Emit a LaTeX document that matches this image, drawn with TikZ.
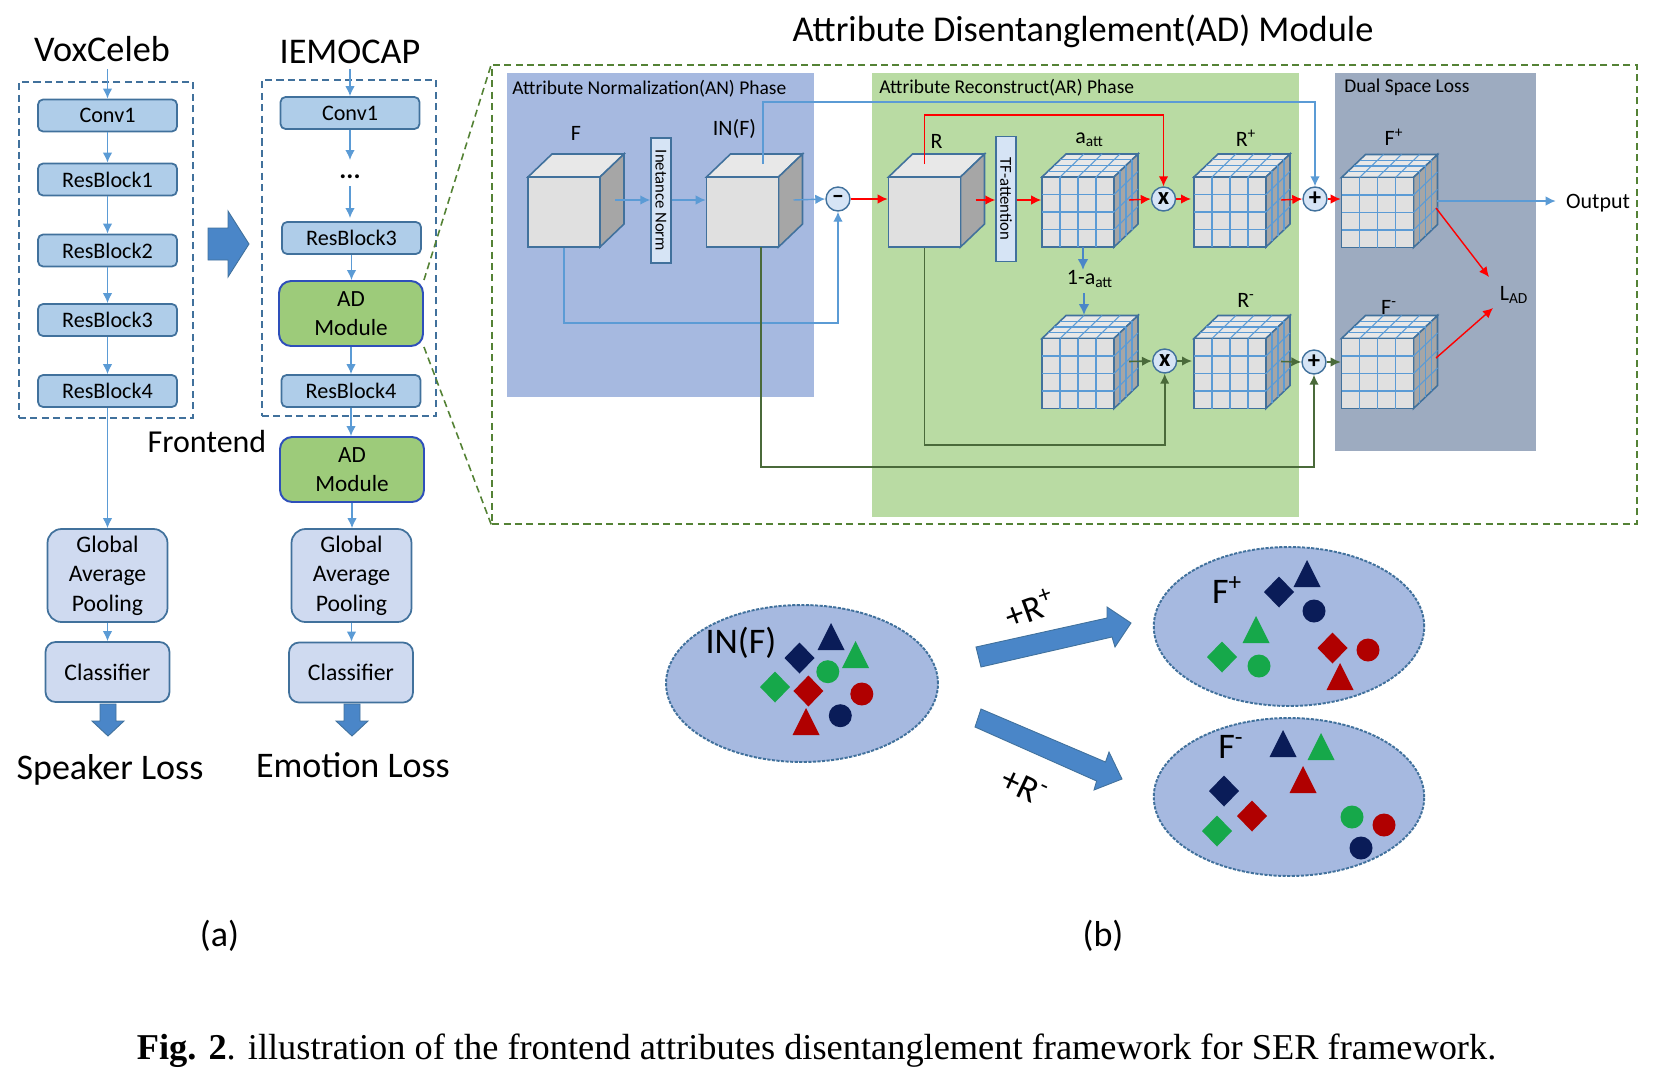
\documentclass[tikz,border=0pt]{standalone}
\usepackage{fontspec}
\setmainfont{Carlito}
\newfontfamily\capfont{Liberation Serif}
\usetikzlibrary{arrows.meta}
\usetikzlibrary{shapes.geometric}
\definecolor{edgeblue}{HTML}{41719C}
\definecolor{boxblue}{HTML}{AFCDE9}
\definecolor{adgreen}{HTML}{9DCB7A}
\definecolor{poolblue}{HTML}{CFDAF0}
\definecolor{anpanel}{HTML}{A6B9E0}
\definecolor{arpanel}{HTML}{B9DBA3}
\definecolor{dualpanel}{HTML}{9DABC0}
\definecolor{linkblue}{HTML}{5B9BD5}
\definecolor{bigblue}{HTML}{4A86C8}
\definecolor{dashgreen}{HTML}{548235}
\definecolor{linkgreen}{HTML}{4A6A3A}
\definecolor{opfill}{HTML}{D6E4F5}
\definecolor{navyshape}{HTML}{0A1C58}
\definecolor{greenshape}{HTML}{16A84A}
\definecolor{redshape}{HTML}{B00000}
\tikzset{blockbox/.style = {draw=edgeblue, fill=boxblue, line width=1pt, rounded corners=1mm,
                            minimum width=2.78cm, minimum height=.64cm, inner sep=0,
                            font=\fontsize{12.6}{14}\selectfont}}
\tikzset{admodule/.style = {draw=edgeblue!70!blue, fill=adgreen, line width=1.1pt, rounded corners=2.4mm,
                            minimum width=2.88cm, minimum height=1.3cm, inner sep=0, align=center,
                            font=\fontsize{13.2}{16.4}\selectfont}}
\tikzset{poolbox/.style = {draw=edgeblue, fill=poolblue, line width=1pt, rounded corners=2.8mm,
                           minimum width=2.4cm, minimum height=1.86cm, inner sep=0, align=center,
                           font=\fontsize{13.5}{16.7}\selectfont}}
\tikzset{classbox/.style = {poolbox, rounded corners=2mm, minimum width=2.48cm, minimum height=1.2cm}}
\tikzset{framebox/.style = {draw=edgeblue, dashed, line width=1pt, dash pattern=on 4pt off 2.5pt}}
\tikzset{bigtext/.style = {inner sep=0, font=\fontsize{20.6}{24}\selectfont}}
\tikzset{phaselabel/.style = {inner sep=0, anchor=west, font=\fontsize{11.1}{13}\selectfont}}
\tikzset{cubelabel/.style = {inner sep=0, font=\fontsize{12.5}{14}\selectfont}}
\tikzset{slimbox/.style = {draw=edgeblue, fill=opfill, line width=.8pt, rotate=-90, inner sep=0,
                           minimum width=2.5cm, minimum height=.4cm, font=\fontsize{9.5}{11}\selectfont}}
\tikzset{opnode/.style = {draw=edgeblue, fill=opfill, line width=.8pt, circle, inner sep=0,
                          minimum size=.48cm, font=\fontsize{14}{14}\selectfont\bfseries}}
\tikzset{bluearr/.style = {draw=linkblue, line width=.8pt, -{Latex[length=2mm,width=1.9mm]}}}
\tikzset{thickarr/.style = {draw=bigblue, line width=1.5pt, -{Latex[length=2.2mm,width=2.2mm]}}}
\tikzset{redarr/.style = {draw=red, line width=.8pt, -{Latex[length=2mm,width=1.9mm]}}}
\tikzset{greenarr/.style = {draw=linkgreen, line width=.9pt, -{Latex[length=2mm,width=1.9mm]}}}
\tikzset{cubefront/.style = {draw=edgeblue, fill=black!12, line width=.9pt, inner sep=0,
                             minimum width=1.44cm, minimum height=1.4cm}}
\tikzset{cubegrid/.style = {draw=linkblue, line width=.6pt}}
\tikzset{bigshape/.style = {fill=bigblue, draw=edgeblue, line width=.5pt}}
\tikzset{cloud/.style = {draw=edgeblue, fill=anpanel, dashed, dash pattern=on 1.8pt off .8pt,
                         line width=1.1pt, ellipse, inner sep=0}}
\newcommand{\plaincube}[3]{
  \begin{scope}[shift={(#2,#3)}]
    \filldraw[draw=edgeblue, fill=black!9, line width=.9pt] (-36,-35) -- (-12,-58) -- (60,-58) -- (36,-35) -- cycle;
    \filldraw[draw=edgeblue, fill=black!35, line width=.9pt] (36,-35) -- (60,-58) -- (60,12) -- (36,35) -- cycle;
    \node[cubefront] (#1) at (0,0) {};
    \coordinate (#1-side) at (51,-12);
    \coordinate (#1-top) at (0,-48);
  \end{scope}}
\newcommand{\gridcube}[3]{
  \plaincube{#1}{#2}{#3}
  \begin{scope}[shift={(#2,#3)}]
    \foreach \i in {1,2,3} {
      \draw[cubegrid] ({-36+18*\i},-35) -- ({-36+18*\i},35);
      \draw[cubegrid] (-36,{-35+17.5*\i}) -- (36,{-35+17.5*\i});
      \draw[cubegrid] ({-36+18*\i},-35) -- ({-12+18*\i},-58);
      \draw[cubegrid] ({-36+6*\i},{-35-5.75*\i}) -- ({36+6*\i},{-35-5.75*\i});
      \draw[cubegrid] ({36+6*\i},{-35-5.75*\i}) -- ({36+6*\i},{35-5.75*\i});
      \draw[cubegrid] (36,{-35+17.5*\i}) -- (60,{-58+17.5*\i});
    }
  \end{scope}}
\begin{document}
\begin{tikzpicture}[x=0.02cm, y=-0.02cm]
  \useasboundingbox (0,0) rectangle (1678,1076);

  % (a) left column
  \node[framebox, minimum width=3.48cm, minimum height=6.72cm] (voxframe) at (106,250) {};
  \node[bigtext] (voxlabel) at (102,49) {VoxCeleb};
  \coordinate (voxin) at (107.5,69);
  \node[blockbox] (vconv) at (107.5,115.5) {Conv1};
  \node[blockbox] (vres1) at (107.5,179.5) {ResBlock1};
  \node[blockbox] (vres2) at (107.5,250.5) {ResBlock2};
  \node[blockbox] (vres3) at (107.5,320) {ResBlock3};
  \node[blockbox] (vres4) at (107.5,391) {ResBlock4};
  \node[poolbox] (vpool) at (107.5,575.5) {Global\\Average\\Pooling};
  \node[classbox] (vclass) at (107.5,672) {Classifier};
  \node[inner sep=0, font=\fontsize{20.5}{24}\selectfont] (spkloss) at (110,770) {Speaker Loss};
  \draw[bluearr] (voxin) -- (vconv.north);
  \draw[bluearr] (vconv) -- (vres1);
  \draw[bluearr] (vres1) -- (vres2);
  \draw[bluearr] (vres2) -- (vres3);
  \draw[bluearr] (vres3) -- (vres4);
  \draw[bluearr] (vres4) -- (vpool);
  \draw[bluearr] (vpool) -- (vclass);
  \fill[bigshape] (100,704) -- (116,704) -- (116,721) -- (124,721) -- (108,736) -- (92,721) -- (100,721) -- cycle;

  % big arrow between the columns
  \fill[bigshape] (208,228) -- (228,228) -- (228,211) -- (249,244) -- (228,277) -- (228,260) -- (208,260) -- cycle;

  % (a) right column
  \node[framebox, minimum width=3.48cm, minimum height=6.72cm] (iemframe) at (349,248) {};
  \node[bigtext] (iemlabel) at (350,52) {IEMOCAP};
  \coordinate (iemin) at (350,69);
  \node[blockbox] (iconv) at (350,113) {Conv1};
  \node[inner sep=0, font=\fontsize{15}{17}\selectfont\bfseries] (idots) at (350,177) {...};
  \node[blockbox] (ires3) at (351.5,238) {ResBlock3};
  \node[admodule] (iad1) at (351,313.5) {AD\\Module};
  \node[blockbox] (ires4) at (351,391) {ResBlock4};
  \node[inner sep=0, font=\fontsize{18.2}{20}\selectfont] (frontend) at (207,442) {Frontend};
  \node[admodule] (iad2) at (352,469.5) {AD\\Module};
  \node[poolbox] (ipool) at (351.5,575.5) {Global\\Average\\Pooling};
  \node[classbox] (iclass) at (351,672.5) {Classifier};
  \node[inner sep=0, font=\fontsize{20.5}{24}\selectfont] (emoloss) at (353,765) {Emotion Loss};
  \draw[bluearr] (iemin) -- (iconv.north);
  \draw[bluearr] (iconv) -- (iconv |- 0,160);
  \draw[bluearr] (iconv |- 0,186) -- (iconv |- 0,218);
  \draw[bluearr] (ires3) -- (ires3 |- iad1.north);
  \draw[bluearr] (iad1) -- (iad1 |- ires4.north);
  \draw[bluearr] (ires4) -- (ires4 |- iad2.north);
  \draw[bluearr] (iad2) -- (iad2 |- ipool.north);
  \draw[bluearr] (ipool) -- (ipool |- iclass.north);
  \fill[bigshape] (344,704) -- (360,704) -- (360,721) -- (368,721) -- (352,736) -- (336,721) -- (344,721) -- cycle;

  % AD module
  \node[inner sep=0, font=\fontsize{20.7}{24}\selectfont] (adtitle) at (1083,31) {Attribute Disentanglement(AD) Module};
  \node[draw=dashgreen, dashed, dash pattern=on 4pt off 2.5pt, line width=.9pt,
        minimum width=22.9cm, minimum height=9.18cm] (adframe) at (1064.5,294.5) {};
  \draw[draw=dashgreen, dash pattern=on 4pt off 2.5pt, line width=.9pt] (iad1.north east) -- (adframe.north west);
  \draw[draw=dashgreen, dash pattern=on 4pt off 2.5pt, line width=.9pt] (iad1.south east) -- (adframe.south west);
  \node[fill=anpanel, minimum width=6.14cm, minimum height=6.48cm] (anpanelbox) at (660.5,235) {};
  \node[fill=arpanel, minimum width=8.54cm, minimum height=8.88cm] (arpanelbox) at (1085.5,295) {};
  \node[fill=dualpanel, minimum width=4.02cm, minimum height=7.56cm] (dualbox) at (1435.5,262) {};
  \node[phaselabel] (anlabel) at (512,89) {Attribute Normalization(AN) Phase};
  \node[phaselabel] (arlabel) at (879,88) {Attribute Reconstruct(AR) Phase};
  \node[phaselabel] (duallabel) at (1344,87) {Dual Space Loss};

  \plaincube{F}{564}{212}
  \plaincube{INF}{742.5}{212}
  \plaincube{R}{924.5}{212}
  \gridcube{att}{1078}{212}
  \gridcube{Rp}{1230}{212}
  \gridcube{Fp}{1377.5}{212.5}
  \gridcube{natt}{1078}{373.5}
  \gridcube{Rm}{1230}{373.5}
  \gridcube{Fm}{1377.5}{373.5}

  \node[cubelabel] (Flabel) at (576,133) {F};
  \node[cubelabel] (INFlabel) at (734.5,129) {IN(F)};
  \node[cubelabel] (Rlabel) at (936.5,141) {R};
  \node[cubelabel] (attlabel) at (1089.5,140) {a\textsubscript{att}};
  \node[cubelabel] (Rplabel) at (1246,138) {R\textsuperscript{+}};
  \node[cubelabel] (Fplabel) at (1394,137) {F\textsuperscript{+}};
  \node[cubelabel] (nattlabel) at (1090,279) {1-a\textsubscript{att}};
  \node[cubelabel] (Rmlabel) at (1246,300) {R\textsuperscript{-}};
  \node[cubelabel] (Fmlabel) at (1389,307) {F\textsuperscript{-}};
  \node[cubelabel] (lad) at (1514,295) {L\textsubscript{AD}};
  \node[cubelabel, inner sep=.2cm, font=\fontsize{12.5}{14}\selectfont] (outlabel) at (1598,203) {Output};

  \node[slimbox] (normbox) at (661,200.5) {Inetance Norm};
  \node[slimbox] (tfbox) at (1006,199) {TF-attention};
  \node[opnode] (sub) at (838,199) {--};
  \node[opnode] (mul1) at (1163.5,199) {x};
  \node[opnode] (plus1) at (1315,199) {+};
  \node[opnode] (mul2) at (1164.7,361) {x};
  \node[opnode] (plus2) at (1314,362) {+};

  \coordinate (fturn) at (838,323);
  \coordinate (INF-up) at (763,164);
  \coordinate (blueturn) at (1315,102);
  \coordinate (redturn) at (1163.5,115);
  \coordinate (INF-down) at (761,247);
  \coordinate (longturn) at (1314,467);
  \coordinate (shortturn) at (1164.7,445);
  \coordinate (Fp-out) at (1437,201);
  \coordinate (Fp-lad) at (1436,208);
  \coordinate (Fm-lad) at (1436,358);
  \coordinate (ladtop) at (1489,277);
  \coordinate (ladbot) at (1493,308);

  \draw[bluearr] (F-side) -- (normbox.south |- F-side);
  \draw[bluearr] (normbox.north |- F-side) -- (INF.west |- F-side);
  \draw[bluearr] (INF-side) -- (sub.west);
  \draw[bluearr] (F.south) |- (fturn) -- (sub.south);
  \draw[bluearr] (INF-up) |- (blueturn) -- (plus1.north);
  \draw[redarr] (sub.east) -- (R.west |- sub.east);
  \draw[redarr] (R-side) -- (tfbox.south |- R-side);
  \draw[redarr] (tfbox.north |- att-side) -- (att.west |- att-side);
  \draw[redarr] (R-top) |- (redturn) -- (mul1.north);
  \draw[redarr] (att-side) -- (mul1.west);
  \draw[redarr] (mul1.east) -- (1191,199);
  \draw[redarr] (Rp-side) -- (plus1.west);
  \draw[redarr] (plus1.east) -- (Fp.west |- plus1.east);
  \draw[thickarr] (1083,247) -- (1083,270);
  \draw[thickarr] (1084,293) -- (1084,315);
  \draw[greenarr] (natt-side) -- (mul2.west);
  \draw[greenarr] (mul2.east) -- (1192,361);
  \draw[greenarr] (Rm-side) -- (plus2.west);
  \draw[greenarr] (plus2.east) -- (Fm.west |- plus2.east);
  \draw[greenarr] (R.south) |- (shortturn) -- (mul2.south);
  \draw[greenarr] (INF-down) |- (longturn) -- (plus2.south);
  \draw[bluearr] (Fp-out) -- (outlabel.west |- Fp-out);
  \draw[redarr] (Fp-lad) -- (ladtop);
  \draw[redarr] (Fm-lad) -- (ladbot);

  % (b) the three spaces
  \node[cloud, minimum width=5.44cm, minimum height=3.14cm] (cloudin) at (802,683.5) {};
  \node[cloud, minimum width=5.41cm, minimum height=3.18cm] (cloudp) at (1289,626.5) {};
  \node[cloud, minimum width=5.41cm, minimum height=3.16cm] (cloudm) at (1289,797) {};
  \node[inner sep=0, font=\fontsize{20.5}{24}\selectfont] (inlabel) at (741,643) {IN(F)};
  \node[inner sep=0, font=\fontsize{20.5}{24}\selectfont] (fplabel) at (1227,590) {F\textsuperscript{+}};
  \node[inner sep=0, font=\fontsize{20.5}{24}\selectfont] (fmlabel) at (1231,747) {F\textsuperscript{-}};
  \foreach \c/\x/\y in {navyshape/831/623, greenshape/855.5/641, redshape/806/708,
                        navyshape/1307/560, greenshape/1256/616, redshape/1340/663,
                        navyshape/1283/730, greenshape/1321/733, redshape/1303/766}
    \fill[\c] (\x,\y) -- ++(13.5,27) -- ++(-27,0) -- cycle;
  \foreach \c/\x/\y in {navyshape/799.5/658, greenshape/775/687, redshape/808.4/691,
                        navyshape/1279/592, greenshape/1222/657, redshape/1332.5/648,
                        navyshape/1224/791, redshape/1252/816, greenshape/1217/831}
    \fill[\c] (\x,\y-15.5) -- ++(15,15.5) -- ++(-15,15.5) -- ++(-15,-15.5) -- cycle;
  \foreach \c/\x/\y in {greenshape/827.8/671.7, redshape/861.8/694, navyshape/840.3/715.7,
                        navyshape/1314/611, greenshape/1259/666, redshape/1368/650,
                        greenshape/1352/817, redshape/1384/825, navyshape/1361/848}
    \fill[\c] (\x,\y) circle (11.5);

  \fill[bigshape] (976,647) -- (1107,618) -- (1107,607) -- (1131,623) -- (1115,647) -- (1112,637) -- (981,667) -- cycle;
  \fill[bigshape] (981,709) -- (1105.5,762) -- (1109,752) -- (1122,779) -- (1094,790) -- (1096.6,781) -- (975,727) -- cycle;
  \node[inner sep=0, rotate=20, font=\fontsize{20.5}{24}\selectfont] (plusR) at (1030,608) {+R\textsuperscript{+}};
  \node[inner sep=0, rotate=-25, font=\fontsize{20.5}{24}\selectfont] (minusR) at (1024,787) {+R\textsuperscript{-}};

  \node[inner sep=0, font=\fontsize{20.5}{24}\selectfont] (parta) at (219.5,936) {(a)};
  \node[inner sep=0, font=\fontsize{20.5}{24}\selectfont] (partb) at (1103,936) {(b)};
  \node[inner sep=0, font=\fontsize{20.7}{24}\selectfont\capfont] (caption) at (816.5,1051)
    {\textbf{Fig. 2}. illustration of the frontend attributes disentanglement framework for SER framework.};
\end{tikzpicture}
\end{document}
